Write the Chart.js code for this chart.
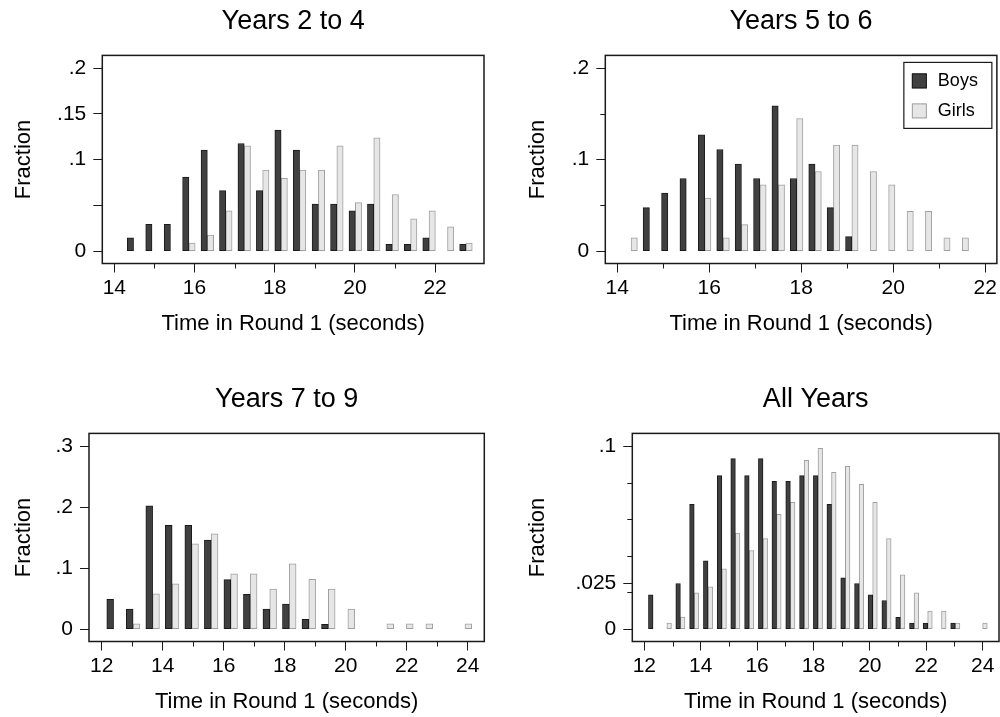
<!DOCTYPE html>
<html>
<head>
<meta charset="utf-8">
<script src="https://cdn.jsdelivr.net/npm/chart.js@4.4.0/dist/chart.umd.min.js"></script>
<style>
  html, body { margin: 0; padding: 0; background: #fff; }
  #wrap { position: relative; width: 1000px; height: 717px; overflow: hidden; }
  canvas { position: absolute; }
</style>
</head>
<body>
<div id="wrap">
  <canvas id="p1" width="500" height="339" style="left:0;top:0"></canvas>
  <canvas id="p2" width="500" height="339" style="left:500px;top:0"></canvas>
  <canvas id="p3" width="500" height="339" style="left:0;top:378px"></canvas>
  <canvas id="p4" width="500" height="339" style="left:500px;top:378px"></canvas>
</div>
<script>
// bin centres (seconds) and fractions
var bins24 = [14.48, 14.94, 15.40, 15.86, 16.32, 16.78, 17.24, 17.70, 18.16, 18.62, 19.09, 19.55, 20.01, 20.47, 20.93, 21.39, 21.85, 22.31, 22.77];
var boys24 = [0.0147, 0.0294, 0.0294, 0.0809, 0.1103, 0.0662, 0.1176, 0.0662, 0.1324, 0.1103, 0.0515, 0.0515, 0.0441, 0.0515, 0.0074, 0.0074, 0.0147, null, 0.0074];
var girls24 = [null, null, null, 0.0088, 0.0177, 0.0442, 0.1150, 0.0885, 0.0796, 0.0885, 0.0885, 0.1150, 0.0531, 0.1239, 0.0619, 0.0354, 0.0442, 0.0265, 0.0088];

var bins56 = [14.30, 14.70, 15.10, 15.50, 15.90, 16.30, 16.70, 17.10, 17.50, 17.90, 18.30, 18.70, 19.10, 19.50, 19.90, 20.30, 20.70, 21.10, 21.50];
var boys56 = [null, 0.0476, 0.0635, 0.0794, 0.1270, 0.1111, 0.0952, 0.0794, 0.1587, 0.0794, 0.0952, 0.0476, 0.0159, null, null, null, null, null, null];
var girls56 = [0.0145, null, null, null, 0.0580, 0.0145, 0.0290, 0.0725, 0.0725, 0.1449, 0.0870, 0.1159, 0.1159, 0.0870, 0.0725, 0.0435, 0.0435, 0.0145, 0.0145];

var bins79 = [12.39, 13.03, 13.67, 14.31, 14.95, 15.59, 16.23, 16.87, 17.51, 18.15, 18.79, 19.43, 20.07, 20.71, 21.35, 21.99, 22.63, 23.27, 23.91];
var boys79 = [0.049, 0.033, 0.202, 0.170, 0.170, 0.146, 0.081, 0.057, 0.033, 0.041, 0.016, 0.008, null, null, null, null, null, null, null];
var girls79 = [null, 0.0087, 0.0578, 0.0741, 0.1396, 0.1560, 0.0905, 0.0905, 0.0655, 0.1069, 0.0818, 0.0655, 0.0327, null, 0.0087, 0.0087, 0.0087, null, 0.0087];

var binsAll = [12.31, 12.80, 13.28, 13.77, 14.26, 14.75, 15.23, 15.72, 16.21, 16.69, 17.18, 17.67, 18.16, 18.64, 19.13, 19.62, 20.10, 20.59, 21.08, 21.57, 22.05, 22.54, 23.03, 23.51, 24.00];
var boysAll = [0.0187, null, 0.0249, 0.0682, 0.0373, 0.0838, 0.0931, 0.0838, 0.0931, 0.0807, 0.0807, 0.0838, 0.0838, 0.0682, 0.0280, 0.0249, 0.0187, 0.0156, 0.0064, 0.0033, 0.0033, null, 0.0033, null, null];
var girlsAll = [null, 0.0033, 0.0065, 0.0198, 0.0231, 0.0329, 0.0525, 0.0429, 0.0495, 0.0627, 0.0693, 0.0922, 0.0987, 0.0856, 0.0889, 0.0791, 0.0693, 0.0495, 0.0296, 0.0198, 0.0098, 0.0098, 0.0033, null, 0.0033];

// axis ticks
var xMajorA = [14, 16, 18, 20, 22];
var xMinorA = [15, 17, 19, 21];
var xMajorB = [12, 14, 16, 18, 20, 22, 24];
var xMinorB = [13, 15, 17, 19, 21, 23];
var yMajor24 = [0, 0.05, 0.1, 0.15, 0.2];
var yLabels24 = ['0', '', '.1', '.15', '.2'];
var yMajor56 = [0, 0.1, 0.2];
var yLabels56 = ['0', '.1', '.2'];
var yMinor56 = [0.05, 0.15];
var yMajor79 = [0, 0.1, 0.2, 0.3];
var yLabels79 = ['0', '.1', '.2', '.3'];
var yMajorAll = [0, 0.025, 0.1];
var yLabelsAll = ['0', '.025', '.1'];
var yMinorAll = [0.02, 0.04, 0.06, 0.08];

Chart.defaults.font.family = '"Liberation Sans", Arial, sans-serif';
Chart.defaults.color = '#000';

var frameTicks = {
    id: 'frameTicks',
    afterDraw: function (chart, args, opts) {
        var ctx = chart.ctx, a = chart.chartArea;
        var sx = chart.scales.x, sy = chart.scales.y;
        ctx.save();
        ctx.strokeStyle = '#1a1a1a';
        ctx.lineWidth = 1.5;
        ctx.strokeRect(a.left, a.top, a.right - a.left, a.bottom - a.top);
        ctx.lineWidth = 1;
        ctx.beginPath();
        (opts.xMinor || []).forEach(function (v) {
            var px = Math.round(sx.getPixelForValue(v)) + 0.5;
            ctx.moveTo(px, a.bottom);
            ctx.lineTo(px, a.bottom + 5);
        });
        (opts.yMinor || []).forEach(function (v) {
            var py = Math.round(sy.getPixelForValue(v)) + 0.5;
            ctx.moveTo(a.left, py);
            ctx.lineTo(a.left - 5, py);
        });
        ctx.stroke();

        if (opts.legend) {
            var bx = a.right - 93, by = a.top + 7, bw = 88, bh = 66;
            ctx.lineWidth = 1.2;
            ctx.strokeRect(bx, by, bw, bh);
            ctx.font = '18px "Liberation Sans", Arial, sans-serif';
            ctx.textBaseline = 'middle';
            ctx.textAlign = 'left';
            chart.data.datasets.forEach(function (ds, i) {
                var ry = by + 11 + i * 30;
                ctx.fillStyle = ds.backgroundColor;
                ctx.fillRect(bx + 8, ry, 15, 15);
                ctx.strokeStyle = ds.borderColor;
                ctx.lineWidth = 1;
                ctx.strokeRect(bx + 8.5, ry + 0.5, 14, 14);
                ctx.fillStyle = '#000';
                ctx.fillText(ds.label, bx + 34, ry + 8);
            });
        }
        ctx.restore();
    }
};

function makeHist(id, c) {
    var ctx = document.getElementById(id).getContext('2d');
    return new Chart(ctx, {
        type: 'bar',
        data: {
            datasets: [{
                label: 'Boys',
                data: c.bins.map(function (x, i) { return {x: x, y: c.boys[i]}; }),
                backgroundColor: '#404040',
                borderColor: '#1a1a1a',
                borderWidth: 1,
                borderSkipped: false,
                barThickness: c.barW
            }, {
                label: 'Girls',
                data: c.bins.map(function (x, i) { return {x: x, y: c.girls[i]}; }),
                backgroundColor: '#e6e6e6',
                borderColor: '#a0a0a0',
                borderWidth: 1,
                borderSkipped: false,
                barThickness: c.barW
            }]
        },
        options: {
            responsive: false,
            animation: false,
            devicePixelRatio: 1,
            layout: { padding: { left: 0, right: 500 - c.right, top: 0, bottom: 0 } },
            scales: {
                x: {
                    type: 'linear',
                    min: c.xMin,
                    max: c.xMax,
                    offset: false,
                    afterBuildTicks: function (s) { s.ticks = c.xMajor.map(function (v) { return {value: v}; }); },
                    afterFit: function (s) { s.height = 75.5; },
                    ticks: {
                        autoSkip: false, maxRotation: 0, minRotation: 0, padding: 3,
                        font: { size: 21 },
                        callback: function (v) { return String(v); }
                    },
                    grid: { offset: false, drawOnChartArea: false, drawTicks: true, tickLength: 9, color: '#1a1a1a' },
                    border: { display: false },
                    title: {
                        display: true, text: 'Time in Round 1 (seconds)',
                        font: { size: 22 }, padding: { top: 0, bottom: 2 }
                    }
                },
                y: {
                    min: c.yMin,
                    max: c.yMax,
                    afterBuildTicks: function (s) { s.ticks = c.yMajor.map(function (v) { return {value: v}; }); },
                    afterFit: function (s) { s.width = c.left; },
                    ticks: {
                        autoSkip: false, padding: 7,
                        font: { size: 21 },
                        callback: function (v, i) { return c.yLabels[i]; }
                    },
                    grid: { drawOnChartArea: false, drawTicks: true, tickLength: 9, color: '#1a1a1a' },
                    border: { display: false },
                    title: {
                        display: true, text: 'Fraction',
                        font: { size: 22 }, padding: { top: c.yTitlePad, bottom: 0 }
                    }
                }
            },
            plugins: {
                legend: { display: false },
                tooltip: { enabled: false },
                title: {
                    display: true, text: c.title,
                    fullSize: false,
                    font: { size: 27, weight: 'normal' },
                    padding: { top: 5, bottom: 18 }
                },
                frameTicks: { xMinor: c.xMinor, yMinor: c.yMinor, legend: c.legend }
            }
        },
        plugins: [frameTicks]
    });
}

makeHist('p1', {
    title: 'Years 2 to 4', bins: bins24, boys: boys24, girls: girls24,
    xMin: 13.70, xMax: 23.22, xMajor: xMajorA, xMinor: xMinorA,
    yMin: -0.0134, yMax: 0.2138, yMajor: yMajor24, yLabels: yLabels24, yMinor: [],
    left: 102.3, right: 484, barW: 6.3, yTitlePad: 11, legend: false
});
makeHist('p2', {
    title: 'Years 5 to 6', bins: bins56, boys: boys56, girls: girls56,
    xMin: 13.74, xMax: 22.253, xMajor: xMajorA, xMinor: xMinorA,
    yMin: -0.0134, yMax: 0.2138, yMajor: yMajor56, yLabels: yLabels56, yMinor: yMinor56,
    left: 105.3, right: 499, barW: 6.3, yTitlePad: 24.7, legend: true
});
makeHist('p3', {
    title: 'Years 7 to 9', bins: bins79, boys: boys79, girls: girls79,
    xMin: 11.584, xMax: 24.544, xMajor: xMajorB, xMinor: xMinorB,
    yMin: -0.0203, yMax: 0.3208, yMajor: yMajor79, yLabels: yLabels79, yMinor: [],
    left: 89, right: 484.3, barW: 6.8, yTitlePad: 11, legend: false
});
makeHist('p4', {
    title: 'All Years', bins: binsAll, boys: boysAll, girls: girlsAll,
    xMin: 11.574, xMax: 24.58, xMajor: xMajorB, xMinor: xMinorB,
    yMin: -0.0068, yMax: 0.1069, yMajor: yMajorAll, yLabels: yLabelsAll, yMinor: yMinorAll,
    left: 132.3, right: 499, barW: 4.6, yTitlePad: 24.7, legend: false
});
</script>
</body>
</html>
